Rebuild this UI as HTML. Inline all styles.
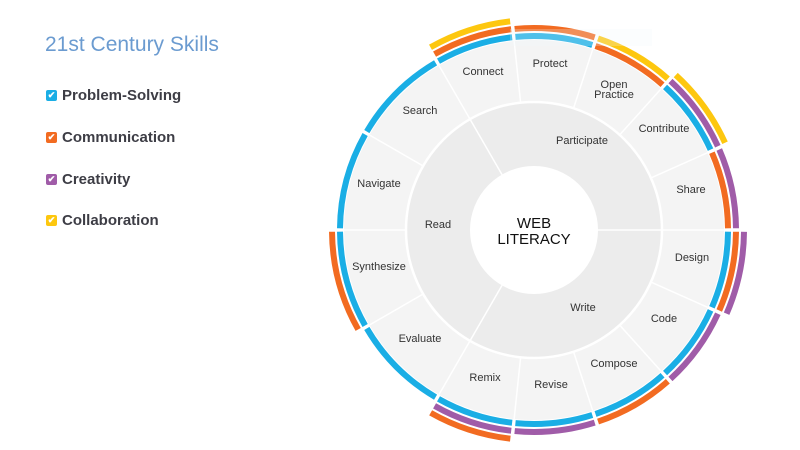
<!DOCTYPE html>
<html><head><meta charset="utf-8"><style>
body{margin:0;width:800px;height:450px;background:#fff;overflow:hidden;font-family:"Liberation Sans",sans-serif}
.t{position:absolute;left:45px;top:33px;font-size:21px;color:#6b9bd0;font-weight:300}
.it{position:absolute;left:46px;font-size:15px;font-weight:bold;color:#3d3d45;line-height:18px}
.cb{position:absolute;left:0;top:3px;width:11px;height:11px;border-radius:2px;color:#fff;font-size:9px;line-height:11px;text-align:center}
.it span.tx{margin-left:16px}
</style></head><body>
<div class="t">21st Century Skills</div>
<div class="it" style="top:87px"><span class="cb" style="background:#1aaee5">✔</span><span class="tx">Problem-Solving</span></div>
<div class="it" style="top:129px"><span class="cb" style="background:#f26b21">✔</span><span class="tx">Communication</span></div>
<div class="it" style="top:171px"><span class="cb" style="background:#a05ca8">✔</span><span class="tx">Creativity</span></div>
<div class="it" style="top:212px"><span class="cb" style="background:#fdc70f">✔</span><span class="tx">Collaboration</span></div>
<svg width="800" height="450" style="position:absolute;left:0;top:0">
<g transform="translate(534,230)" fill="none">
<circle r="159" stroke="#f4f4f4" stroke-width="62"/>
<circle r="96" stroke="#ececec" stroke-width="64"/>
<circle r="128" stroke="#fff" stroke-width="2.5"/>
<g stroke="#fff" stroke-width="1.5">
<line x1="128" x2="190" transform="rotate(24)"/><line x1="128" x2="190" transform="rotate(48)"/><line x1="128" x2="190" transform="rotate(72)"/><line x1="128" x2="190" transform="rotate(96)"/><line x1="128" x2="190" transform="rotate(150)"/><line x1="128" x2="190" transform="rotate(180)"/><line x1="128" x2="190" transform="rotate(210)"/><line x1="128" x2="190" transform="rotate(264)"/><line x1="128" x2="190" transform="rotate(288)"/><line x1="128" x2="190" transform="rotate(312)"/><line x1="128" x2="190" transform="rotate(336)"/>
<line x1="64" x2="190" transform="rotate(0)"/><line x1="64" x2="190" transform="rotate(120)"/><line x1="64" x2="190" transform="rotate(240)"/>
</g>
<g stroke-width="6">
<circle r="194" pathLength="360" stroke="#1aaee5" stroke-dasharray="23 337" stroke-dashoffset="-240.5"/>
<circle r="202" pathLength="360" stroke="#f26b21" stroke-dasharray="23 337" stroke-dashoffset="-240.5"/>
<circle r="210" pathLength="360" stroke="#fdc70f" stroke-dasharray="23 337" stroke-dashoffset="-240.5"/>
<circle r="194" pathLength="360" stroke="#1aaee5" stroke-dasharray="23 337" stroke-dashoffset="-264.5"/>
<circle r="202" pathLength="360" stroke="#f26b21" stroke-dasharray="23 337" stroke-dashoffset="-264.5"/>
<circle r="194" pathLength="360" stroke="#f26b21" stroke-dasharray="23 337" stroke-dashoffset="-288.5"/>
<circle r="202" pathLength="360" stroke="#fdc70f" stroke-dasharray="23 337" stroke-dashoffset="-288.5"/>
<circle r="194" pathLength="360" stroke="#1aaee5" stroke-dasharray="23 337" stroke-dashoffset="-312.5"/>
<circle r="202" pathLength="360" stroke="#a05ca8" stroke-dasharray="23 337" stroke-dashoffset="-312.5"/>
<circle r="210" pathLength="360" stroke="#fdc70f" stroke-dasharray="23 337" stroke-dashoffset="-312.5"/>
<circle r="194" pathLength="360" stroke="#f26b21" stroke-dasharray="23 337" stroke-dashoffset="-336.5"/>
<circle r="202" pathLength="360" stroke="#a05ca8" stroke-dasharray="23 337" stroke-dashoffset="-336.5"/>
<circle r="194" pathLength="360" stroke="#1aaee5" stroke-dasharray="23 337" stroke-dashoffset="-0.5"/>
<circle r="202" pathLength="360" stroke="#f26b21" stroke-dasharray="23 337" stroke-dashoffset="-0.5"/>
<circle r="210" pathLength="360" stroke="#a05ca8" stroke-dasharray="23 337" stroke-dashoffset="-0.5"/>
<circle r="194" pathLength="360" stroke="#1aaee5" stroke-dasharray="23 337" stroke-dashoffset="-24.5"/>
<circle r="202" pathLength="360" stroke="#a05ca8" stroke-dasharray="23 337" stroke-dashoffset="-24.5"/>
<circle r="194" pathLength="360" stroke="#1aaee5" stroke-dasharray="23 337" stroke-dashoffset="-48.5"/>
<circle r="202" pathLength="360" stroke="#f26b21" stroke-dasharray="23 337" stroke-dashoffset="-48.5"/>
<circle r="194" pathLength="360" stroke="#1aaee5" stroke-dasharray="23 337" stroke-dashoffset="-72.5"/>
<circle r="202" pathLength="360" stroke="#a05ca8" stroke-dasharray="23 337" stroke-dashoffset="-72.5"/>
<circle r="194" pathLength="360" stroke="#1aaee5" stroke-dasharray="23 337" stroke-dashoffset="-96.5"/>
<circle r="202" pathLength="360" stroke="#a05ca8" stroke-dasharray="23 337" stroke-dashoffset="-96.5"/>
<circle r="210" pathLength="360" stroke="#f26b21" stroke-dasharray="23 337" stroke-dashoffset="-96.5"/>
<circle r="194" pathLength="360" stroke="#1aaee5" stroke-dasharray="29 331" stroke-dashoffset="-120.5"/>
<circle r="194" pathLength="360" stroke="#1aaee5" stroke-dasharray="29 331" stroke-dashoffset="-150.5"/>
<circle r="202" pathLength="360" stroke="#f26b21" stroke-dasharray="29 331" stroke-dashoffset="-150.5"/>
<circle r="194" pathLength="360" stroke="#1aaee5" stroke-dasharray="29 331" stroke-dashoffset="-180.5"/>
<circle r="194" pathLength="360" stroke="#1aaee5" stroke-dasharray="29 331" stroke-dashoffset="-210.5"/>
</g>
<circle r="63" fill="#fff"/>
</g>
<rect x="510" y="29" width="142" height="17" fill="#eef6fc" opacity="0.25"/>
<g font-family="Liberation Sans, sans-serif" font-size="11" fill="#333" text-anchor="middle">
<text x="483" y="75">Connect</text>
<text x="550" y="67">Protect</text>
<text x="614" y="88">Open</text><text x="614" y="98">Practice</text>
<text x="664" y="132">Contribute</text>
<text x="691" y="193">Share</text>
<text x="692" y="261">Design</text>
<text x="664" y="322">Code</text>
<text x="614" y="367">Compose</text>
<text x="551" y="388">Revise</text>
<text x="485" y="381">Remix</text>
<text x="420" y="342">Evaluate</text>
<text x="379" y="270">Synthesize</text>
<text x="379" y="187">Navigate</text>
<text x="420" y="114">Search</text>
<text x="582" y="144">Participate</text>
<text x="438" y="228">Read</text>
<text x="583" y="311">Write</text>
<text x="534" y="228" font-size="15" fill="#111">WEB</text>
<text x="534" y="244" font-size="15" fill="#111">LITERACY</text>
</g>
</svg>
</body></html>
